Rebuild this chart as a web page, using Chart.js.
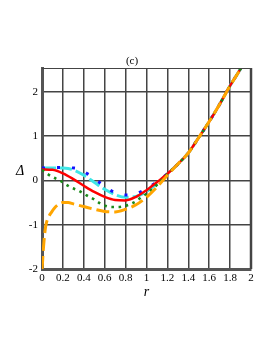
<!DOCTYPE html>
<html>
<head>
<meta charset="utf-8">
<script src="https://cdn.jsdelivr.net/npm/chart.js@4/dist/chart.umd.min.js"></script>
<style>
  html, body { margin: 0; padding: 0; background: #ffffff; }
  #wrap { width: 273px; height: 353px; }
</style>
</head>
<body>
<div id="wrap"><canvas id="c" width="273" height="353"></canvas></div>
<script>
// ---- data ----
const xTicks = [0, 0.2, 0.4, 0.6, 0.8, 1, 1.2, 1.4, 1.6, 1.8, 2];
const yTicks = [-2, -1, 0, 1, 2];

// shared tail where all curves merge
const tailX = [1.3, 1.4, 1.5, 1.6, 1.7, 1.8, 1.9, 1.95];
const tailY = [0.37, 0.62, 0.97, 1.33, 1.72, 2.14, 2.52, 2.72];

const redX = [0, 0.1, 0.2, 0.3, 0.4, 0.5, 0.6, 0.7, 0.8, 0.9, 1.0, 1.1, 1.2];
const redY = [0.25, 0.24, 0.16, 0.03, -0.12, -0.26, -0.37, -0.44, -0.45, -0.37, -0.22, -0.04, 0.15];

const cyanX = [0.02, 0.1, 0.2, 0.25, 0.3, 0.4, 0.5, 0.6, 0.7, 0.8, 0.9, 1.0, 1.1, 1.2];
const cyanY = [0.28, 0.28, 0.28, 0.27, 0.24, 0.12, -0.04, -0.2, -0.32, -0.38, -0.36, -0.25, -0.07, 0.15];

const blueX = [0, 0.1, 0.17, 0.31, 0.45, 0.57, 0.7, 0.84, 0.99, 1.1, 1.2];
const blueY = [0.28, 0.29, 0.29, 0.28, 0.13, -0.08, -0.28, -0.33, -0.2, -0.03, 0.15];

const greenX = [0, 0.05, 0.1, 0.17, 0.27, 0.35, 0.43, 0.5, 0.55, 0.6, 0.67, 0.73, 0.8, 0.85, 0.9, 0.95, 1.0, 1.1, 1.2];
const greenY = [0.24, 0.15, 0.08, 0.0, -0.15, -0.23, -0.34, -0.43, -0.51, -0.57, -0.6, -0.6, -0.57, -0.53, -0.47, -0.38, -0.3, -0.1, 0.14];

const orangeX = [0, 0.005, 0.01, 0.02, 0.03, 0.04, 0.06, 0.09, 0.12, 0.16, 0.2, 0.25, 0.3, 0.4, 0.5, 0.6, 0.7, 0.8, 0.9, 1.0, 1.1, 1.2];
const orangeY = [-2.0, -1.85, -1.65, -1.35, -1.12, -0.98, -0.84, -0.72, -0.62, -0.54, -0.5, -0.5, -0.53, -0.59, -0.65, -0.7, -0.71, -0.65, -0.55, -0.38, -0.15, 0.12];

const titleText = "(c)";
const xLabel = "r";
const yLabel = "Δ";

function pts(xs, ys) {
  const a = xs.map((x, i) => ({ x: x, y: ys[i] }));
  return a.concat(tailX.map((x, i) => ({ x: x, y: tailY[i] })));
}

const serif = "'Liberation Serif', 'DejaVu Serif', serif";

const textPlugin = {
  id: 'texts',
  afterDraw(chart) {
    const ctx = chart.ctx;
    const a = chart.chartArea;
    ctx.save();
    ctx.strokeStyle = '#444';
    ctx.lineWidth = 1;
    ctx.beginPath();
    ctx.moveTo(a.left, a.top + 0.5);
    ctx.lineTo(a.right, a.top + 0.5);
    ctx.stroke();
    ctx.lineWidth = 2.5;
    ctx.beginPath();
    ctx.moveTo(a.right, a.top);
    ctx.lineTo(a.right, a.bottom);
    ctx.stroke();
    ctx.fillStyle = '#000';
    ctx.textAlign = 'center';
    ctx.textBaseline = 'middle';
    ctx.font = "11px " + serif;
    ctx.fillText(titleText, a.left + 90, a.top - 7);
    ctx.font = "italic 14px " + serif;
    ctx.fillText(yLabel, 20, chart.scales.y.getPixelForValue(0) - 9);
    ctx.fillText(xLabel, (a.left + a.right) / 2, a.bottom + 23);
    ctx.restore();
  }
};

new Chart(document.getElementById('c'), {
  type: 'line',
  data: {
    datasets: [
      { label: 'orange', data: pts(orangeX, orangeY), borderColor: '#ffa500', borderWidth: 3,
        borderDash: [13, 5], order: 0 },
      { label: 'green', data: pts(greenX, greenY), borderColor: '#1a8a1a', borderWidth: 2.6,
        borderDash: [2.6, 4.6], order: 1 },
      { label: 'red', data: pts(redX, redY), borderColor: '#ff0000', borderWidth: 2.5, order: 2 },
      { label: 'blue', data: pts(blueX, blueY), borderColor: '#1010ff', borderWidth: 3,
        borderDash: [3, 12], order: 3 },
      { label: 'cyan', data: pts(cyanX, cyanY), borderColor: '#3ee6e6', borderWidth: 3,
        borderDash: [12, 4], order: 4 }
    ]
  },
  options: {
    responsive: false,
    animation: false,
    devicePixelRatio: 1,
    layout: { padding: { top: 68, right: 22, left: 0, bottom: 0 } },
    elements: {
      point: { radius: 0 },
      line: { cubicInterpolationMode: 'monotone', fill: false, borderCapStyle: 'butt' }
    },
    plugins: { legend: { display: false }, tooltip: { enabled: false }, title: { display: false } },
    scales: {
      x: {
        type: 'linear', min: 0, max: 2,
        afterFit(s) { s.height = 84; },
        afterBuildTicks(s) { s.ticks = xTicks.map(v => ({ value: v })); },
        grid: { color: '#444', lineWidth: 1.5, drawTicks: false },
        border: { color: '#555', width: 3 },
        ticks: { color: '#000', padding: 3, maxRotation: 0, autoSkip: false,
          font: { family: serif, size: 11 },
          callback: v => String(+v.toFixed(1)) }
      },
      y: {
        type: 'linear', min: -2, max: 2.54,
        afterFit(s) { s.width = 42; },
        afterBuildTicks(s) { s.ticks = yTicks.map(v => ({ value: v })); },
        grid: { color: '#444', lineWidth: 1.5, drawTicks: false },
        border: { color: '#555', width: 3 },
        ticks: { color: '#000', padding: 4, font: { family: serif, size: 11 },
          callback: v => String(v) }
      }
    }
  },
  plugins: [textPlugin]
});
</script>
</body>
</html>
